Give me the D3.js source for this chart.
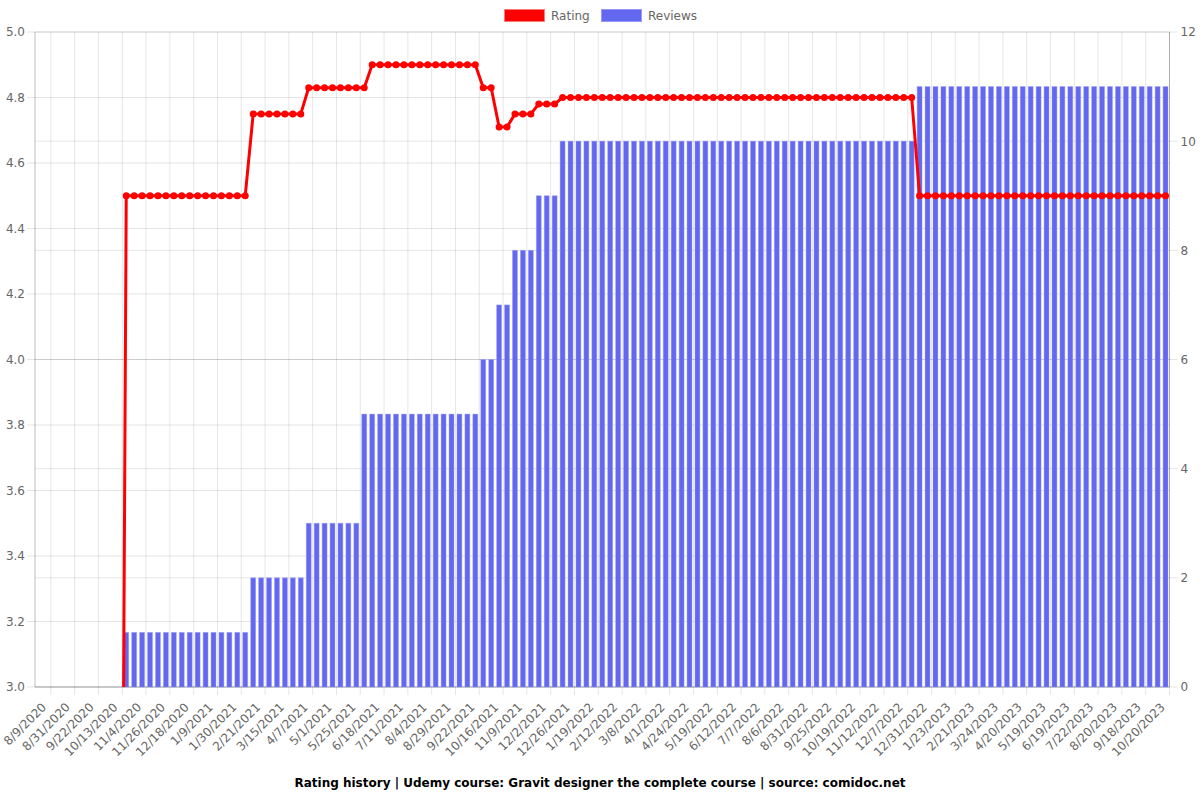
<!DOCTYPE html>
<html>
<head>
<meta charset="utf-8">
<script src="https://cdn.jsdelivr.net/npm/d3@7"></script>
<style>
  html, body { margin: 0; padding: 0; background: #fff; }
  svg { display: block; font-family: "DejaVu Sans", sans-serif; }
</style>
</head>
<body>
<svg id="chart"></svg>
<script>
// category dates (every third one is shown on the axis)
const dates = [
  "8/9/2020", "8/16/2020", "8/23/2020", "8/31/2020", "9/7/2020", "9/14/2020",
  "9/22/2020", "9/29/2020", "10/6/2020", "10/13/2020", "10/20/2020", "10/27/2020",
  "11/4/2020", "11/11/2020", "11/18/2020", "11/26/2020", "12/3/2020", "12/10/2020",
  "12/18/2020", "12/25/2020", "1/1/2021", "1/9/2021", "1/16/2021", "1/23/2021",
  "1/30/2021", "2/6/2021", "2/13/2021", "2/21/2021", "2/28/2021", "3/7/2021",
  "3/15/2021", "3/22/2021", "3/30/2021", "4/7/2021", "4/15/2021", "4/23/2021",
  "5/1/2021", "5/9/2021", "5/17/2021", "5/25/2021", "6/2/2021", "6/10/2021",
  "6/18/2021", "6/26/2021", "7/3/2021", "7/11/2021", "7/19/2021", "7/27/2021",
  "8/4/2021", "8/12/2021", "8/21/2021", "8/29/2021", "9/6/2021", "9/14/2021",
  "9/22/2021", "9/30/2021", "10/8/2021", "10/16/2021", "10/24/2021", "11/1/2021",
  "11/9/2021", "11/17/2021", "11/24/2021", "12/2/2021", "12/10/2021", "12/18/2021",
  "12/26/2021", "1/3/2022", "1/11/2022", "1/19/2022", "1/27/2022", "2/4/2022",
  "2/12/2022", "2/20/2022", "2/28/2022", "3/8/2022", "3/16/2022", "3/24/2022",
  "4/1/2022", "4/9/2022", "4/16/2022", "4/24/2022", "5/2/2022", "5/11/2022",
  "5/19/2022", "5/27/2022", "6/4/2022", "6/12/2022", "6/20/2022", "6/29/2022",
  "7/7/2022", "7/17/2022", "7/27/2022", "8/6/2022", "8/14/2022", "8/23/2022",
  "8/31/2022", "9/8/2022", "9/17/2022", "9/25/2022", "10/3/2022", "10/11/2022",
  "10/19/2022", "10/27/2022", "11/4/2022", "11/12/2022", "11/20/2022", "11/29/2022",
  "12/7/2022", "12/15/2022", "12/23/2022", "12/31/2022", "1/8/2023", "1/16/2023",
  "1/23/2023", "2/2/2023", "2/11/2023", "2/21/2023", "3/3/2023", "3/14/2023",
  "3/24/2023", "4/2/2023", "4/11/2023", "4/20/2023", "4/30/2023", "5/9/2023",
  "5/19/2023", "5/29/2023", "6/9/2023", "6/19/2023", "6/30/2023", "7/11/2023",
  "7/22/2023", "8/1/2023", "8/10/2023", "8/20/2023", "8/30/2023", "9/8/2023",
  "9/18/2023", "9/28/2023", "10/9/2023", "10/20/2023", "10/30/2023"
];

const ratings = [
  0, 0, 0, 0, 0, 0, 0, 0, 0, 0, 0,
  4.5, 4.5, 4.5, 4.5, 4.5, 4.5, 4.5, 4.5, 4.5, 4.5, 4.5, 4.5, 4.5, 4.5, 4.5, 4.5,
  4.75, 4.75, 4.75, 4.75, 4.75, 4.75, 4.75,
  4.83, 4.83, 4.83, 4.83, 4.83, 4.83, 4.83, 4.83,
  4.9, 4.9, 4.9, 4.9, 4.9, 4.9, 4.9, 4.9, 4.9, 4.9, 4.9, 4.9, 4.9, 4.9,
  4.83, 4.83,
  4.71, 4.71,
  4.75, 4.75, 4.75,
  4.78, 4.78, 4.78,
  4.8, 4.8, 4.8, 4.8, 4.8, 4.8, 4.8, 4.8, 4.8, 4.8, 4.8, 4.8, 4.8, 4.8, 4.8,
  4.8, 4.8, 4.8, 4.8, 4.8, 4.8, 4.8, 4.8, 4.8, 4.8, 4.8, 4.8, 4.8, 4.8, 4.8,
  4.8, 4.8, 4.8, 4.8, 4.8, 4.8, 4.8, 4.8, 4.8, 4.8, 4.8, 4.8, 4.8, 4.8, 4.8,
  4.5, 4.5, 4.5, 4.5, 4.5, 4.5, 4.5, 4.5, 4.5, 4.5, 4.5, 4.5, 4.5, 4.5, 4.5, 4.5,
  4.5, 4.5, 4.5, 4.5, 4.5, 4.5, 4.5, 4.5, 4.5, 4.5, 4.5, 4.5, 4.5, 4.5, 4.5, 4.5
];

const reviews = [
  0, 0, 0, 0, 0, 0, 0, 0, 0, 0, 0,
  1, 1, 1, 1, 1, 1, 1, 1, 1, 1, 1, 1, 1, 1, 1, 1,
  2, 2, 2, 2, 2, 2, 2,
  3, 3, 3, 3, 3, 3, 3,
  5, 5, 5, 5, 5, 5, 5, 5, 5, 5, 5, 5, 5, 5, 5,
  6, 6,
  7, 7,
  8, 8, 8,
  9, 9, 9,
  10, 10, 10, 10, 10, 10, 10, 10, 10, 10, 10, 10, 10, 10, 10,
  10, 10, 10, 10, 10, 10, 10, 10, 10, 10, 10, 10, 10, 10, 10,
  10, 10, 10, 10, 10, 10, 10, 10, 10, 10, 10, 10, 10, 10, 10,
  11, 11, 11, 11, 11, 11, 11, 11, 11, 11, 11, 11, 11, 11, 11, 11,
  11, 11, 11, 11, 11, 11, 11, 11, 11, 11, 11, 11, 11, 11, 11, 11
];

const ratingTicks = [3.0, 3.2, 3.4, 3.6, 3.8, 4.0, 4.2, 4.4, 4.6, 4.8, 5.0];
const reviewTicks = [0, 2, 4, 6, 8, 10, 12];
const labelEvery = 3;
const title = "Rating history | Udemy course: Gravit designer the complete course | source: comidoc.net";

const width = 1200, height = 800;
const margin = { top: 32, right: 30.5, bottom: 113, left: 35 };

const svg = d3.select("#chart")
  .attr("width", width)
  .attr("height", height)
  .attr("viewBox", [0, 0, width, height]);

const idx = d3.range(dates.length);

const x = d3.scaleBand()
  .domain(idx)
  .range([margin.left, width - margin.right])
  .padding(0);

const yL = d3.scaleLinear()
  .domain([3, 5])
  .range([height - margin.bottom, margin.top]);

const yR = d3.scaleLinear()
  .domain([0, 12])
  .range([height - margin.bottom, margin.top]);

const bw = x.bandwidth();
const plotLeft = margin.left, plotRight = width - margin.right;
const plotTop = margin.top, plotBottom = height - margin.bottom;
const gridColor = "rgba(0,0,0,0.1)";

// label positions and grid lines between them
const labelIdx = idx.filter(i => i % labelEvery === 0);
const vGrid = labelIdx.slice(1).map(i => x(i - 1)).concat([plotRight]);

const grid = svg.append("g");

grid.selectAll(".vg")
  .data(vGrid)
  .join("line")
  .attr("x1", d => d).attr("x2", d => d)
  .attr("y1", plotTop).attr("y2", plotBottom + 8)
  .attr("stroke", gridColor);

grid.selectAll(".hgl")
  .data(ratingTicks)
  .join("line")
  .attr("x1", plotLeft - 8).attr("x2", plotRight)
  .attr("y1", d => yL(d)).attr("y2", d => yL(d))
  .attr("stroke", gridColor);

grid.selectAll(".hgr")
  .data(reviewTicks)
  .join("line")
  .attr("x1", plotLeft).attr("x2", plotRight + 8)
  .attr("y1", d => yR(d)).attr("y2", d => yR(d))
  .attr("stroke", gridColor);

// axis borders
svg.append("line")
  .attr("x1", plotLeft).attr("x2", plotLeft).attr("y1", plotTop).attr("y2", plotBottom)
  .attr("stroke", "rgba(0,0,0,0.25)");
svg.append("line")
  .attr("x1", plotRight).attr("x2", plotRight).attr("y1", plotTop).attr("y2", plotBottom)
  .attr("stroke", "rgba(0,0,0,0.25)");
svg.append("line")
  .attr("x1", plotLeft).attr("x2", plotRight).attr("y1", plotBottom).attr("y2", plotBottom)
  .attr("stroke", "rgba(0,0,0,0.25)");

// Reviews bars
const barW = bw * 0.62;
svg.append("g")
  .selectAll("rect")
  .data(idx.filter(i => reviews[i] > 0))
  .join("rect")
  .attr("x", i => x(i) + (bw - barW) / 2)
  .attr("y", i => yR(reviews[i]))
  .attr("width", barW)
  .attr("height", i => yR(0) - yR(reviews[i]))
  .attr("fill", "#6468f0")
  .attr("stroke", "rgba(150,153,245,0.55)")
  .attr("stroke-width", 0.8);

// Rating line
svg.append("clipPath").attr("id", "clip")
  .append("rect")
  .attr("x", plotLeft).attr("y", plotTop - 6)
  .attr("width", plotRight - plotLeft).attr("height", plotBottom - plotTop + 6);

const line = d3.line()
  .x(i => x(i) + bw / 2)
  .y(i => yL(ratings[i]));

const lineG = svg.append("g").attr("clip-path", "url(#clip)");

lineG.append("path")
  .datum(idx)
  .attr("d", line)
  .attr("fill", "none")
  .attr("stroke", "#ff0000")
  .attr("stroke-width", 3)
  .attr("stroke-linejoin", "round");

lineG.selectAll("circle")
  .data(idx.filter(i => ratings[i] >= 3))
  .join("circle")
  .attr("cx", i => x(i) + bw / 2)
  .attr("cy", i => yL(ratings[i]))
  .attr("r", 3.5)
  .attr("fill", "#ff0000");

// Left axis labels
svg.append("g")
  .attr("transform", `translate(${plotLeft - 8},0)`)
  .call(d3.axisLeft(yL).tickValues(ratingTicks).tickFormat(d3.format(".1f")).tickSize(0).tickPadding(2))
  .call(g => g.select(".domain").remove())
  .call(g => g.selectAll("text").attr("fill", "#666").attr("font-size", 12).attr("font-family", "DejaVu Sans"));

// Right axis labels
svg.append("g")
  .attr("transform", `translate(${plotRight + 8},0)`)
  .call(d3.axisRight(yR).tickValues(reviewTicks).tickSize(0).tickPadding(3))
  .call(g => g.select(".domain").remove())
  .call(g => g.selectAll("text").attr("fill", "#666").attr("font-size", 12).attr("font-family", "DejaVu Sans"));

// Bottom axis labels, rotated
svg.append("g")
  .attr("transform", `translate(0,${plotBottom})`)
  .call(d3.axisBottom(x).tickValues(labelIdx).tickFormat(i => dates[i]).tickSize(0))
  .call(g => g.select(".domain").remove())
  .call(g => g.selectAll("text")
    .attr("fill", "#666")
    .attr("font-size", 12)
    .attr("font-family", "DejaVu Sans")
    .attr("text-anchor", "end")
    .attr("y", 0)
    .attr("dy", "0.35em")
    .attr("transform", "translate(5,18) rotate(-45)"));

// Legend
const legend = svg.append("g").attr("font-size", 12).attr("fill", "#666");
const legendItems = [
  { name: "Rating", color: "#ff0000", border: "rgba(255,120,120,1)", x: 504 },
  { name: "Reviews", color: "#6468f0", border: "rgba(150,152,245,1)", x: 601 }
];
legendItems.forEach(d => {
  legend.append("rect")
    .attr("x", d.x + 0.5).attr("y", 9.5)
    .attr("width", 40).attr("height", 12)
    .attr("fill", d.color)
    .attr("stroke", d.border);
  legend.append("text")
    .attr("x", d.x + 47).attr("y", 16)
    .attr("dy", "0.35em")
    .attr("fill", "#666")
    .text(d.name);
});

// Title
svg.append("text")
  .attr("x", width / 2)
  .attr("y", 787)
  .attr("text-anchor", "middle")
  .attr("font-size", 12)
  .attr("font-weight", "bold")
  .attr("fill", "#000")
  .text(title);
</script>
</body>
</html>
